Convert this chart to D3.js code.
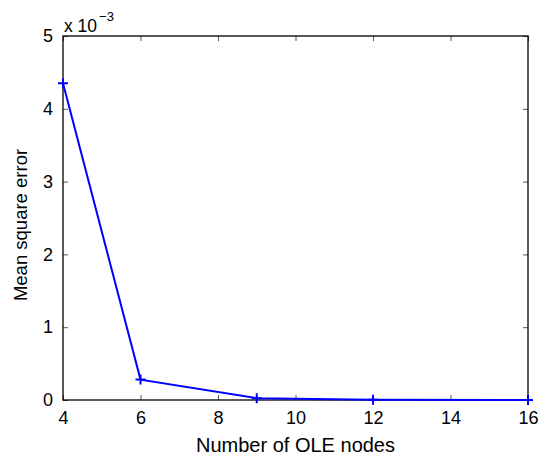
<!DOCTYPE html>
<html><head><meta charset="utf-8">
<script src="https://cdn.jsdelivr.net/npm/d3@7"></script>
<style>body{margin:0;background:#fff}svg{display:block}text{font-family:"Liberation Sans",Arial,sans-serif;fill:#000}</style>
</head><body>
<script>
const nodes = [4, 6, 9, 12, 16];
const mse = [4.35, 0.28, 0.025, 0.003, 0.001]; // x 10^-3
const xTicks = [4, 6, 8, 10, 12, 14, 16];
const yTicks = [0, 1, 2, 3, 4, 5];

const W = 541, H = 460;
const m = {l: 63, r: 13, t: 36, b: 60};
const svg = d3.select("body").append("svg").attr("width", W).attr("height", H);
const x = d3.scaleLinear().domain([4, 16]).range([m.l, W - m.r]);
const y = d3.scaleLinear().domain([0, 5]).range([H - m.b, m.t]);

const g = svg.append("g");
const tl = 5;
g.append("g").attr("transform", `translate(0,${H - m.b})`)
  .call(d3.axisBottom(x).tickValues(xTicks).tickSize(-tl).tickPadding(11).tickFormat(d3.format("d")))
  .call(a => { a.select(".domain").remove(); a.selectAll("text").attr("font-size", 18).attr("dy", "0.71em"); });
g.append("g").attr("transform", `translate(0,${m.t})`)
  .call(d3.axisTop(x).tickValues(xTicks).tickSize(-tl).tickFormat(""))
  .call(a => a.select(".domain").remove());
g.append("g").attr("transform", `translate(${m.l},0)`)
  .call(d3.axisLeft(y).tickValues(yTicks).tickSize(-tl).tickPadding(10).tickFormat(d3.format("d")))
  .call(a => { a.select(".domain").remove(); a.selectAll("text").attr("font-size", 18); });
g.append("g").attr("transform", `translate(${W - m.r},0)`)
  .call(d3.axisRight(y).tickValues(yTicks).tickSize(-tl).tickFormat(""))
  .call(a => a.select(".domain").remove());
g.selectAll(".tick line").attr("stroke", "#555").attr("stroke-width", 1);

svg.append("rect").attr("x", m.l).attr("y", m.t).attr("width", W - m.r - m.l).attr("height", H - m.b - m.t)
  .attr("fill", "none").attr("stroke", "#000").attr("stroke-width", 1.3);

const pts = nodes.map((n, i) => [n, mse[i]]);
svg.append("path").datum(pts)
  .attr("d", d3.line().x(d => x(d[0])).y(d => y(d[1])))
  .attr("fill", "none").attr("stroke", "#0000ff").attr("stroke-width", 2);
const s = 5;
svg.append("g").selectAll("path.mk").data(pts).join("path")
  .attr("d", d => `M${x(d[0]) - s},${y(d[1])}H${x(d[0]) + s}M${x(d[0])},${y(d[1]) - s}V${y(d[1]) + s}`)
  .attr("stroke", "#0000ff").attr("stroke-width", 2);

const ex = svg.append("text").attr("x", 64).attr("y", 31.5).attr("font-size", 17.5);
ex.append("tspan").text("x 10");
ex.append("tspan").attr("font-size", 13).attr("dy", -11).attr("dx", 2).text("\u22123");

svg.append("text").attr("x", (m.l + W - m.r) / 2).attr("y", 451.5).attr("text-anchor", "middle")
  .attr("font-size", 20).text("Number of OLE nodes");
svg.append("text").attr("transform", `translate(26.5,225) rotate(-90)`)
  .attr("text-anchor", "middle").attr("font-size", 18.5).text("Mean square error");
</script>
</body></html>
